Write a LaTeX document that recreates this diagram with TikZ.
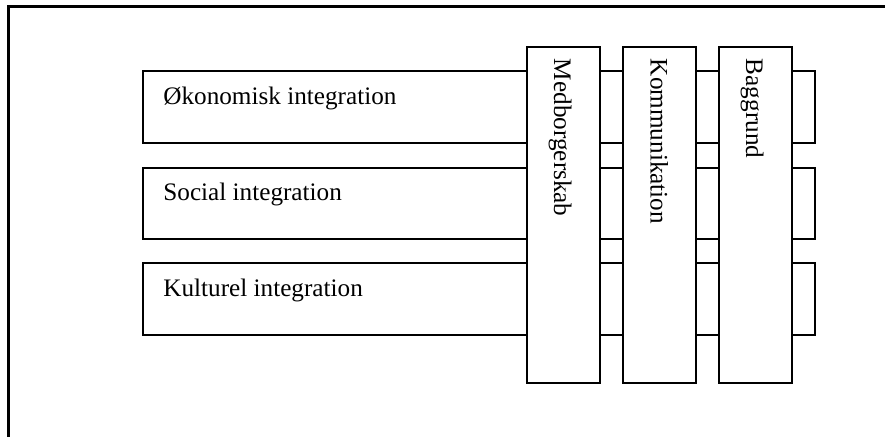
\documentclass[tikz,border=0pt]{standalone}
\usepackage{fontspec}
\setmainfont{Liberation Serif}
\usetikzlibrary{positioning}
\tikzset{frame/.style={line width=1.3pt},
  rowbox/.style={draw, line width=1pt},
  colbox/.style={draw, fill=white, line width=1pt},
  rowtext/.style={anchor=base west, inner sep=0pt, font=\fontsize{12.6}{15}\selectfont},
  coltext/.style={rotate=-90, anchor=base west, inner sep=0pt, font=\fontsize{12.6}{15}\selectfont}}

\begin{document}
\begin{tikzpicture}[x=0.5pt,y=-0.5pt]
      \def\hl{143}    % left end of the rows
      \def\hr{815}    % right end of the rows
      \def\vt{46.7}   % top of the columns
      \def\vb{383.3}  % bottom of the columns
      \useasboundingbox (0,0) rectangle (885,437);
      \draw[frame] (8.3,437) -- (8.3,6.7) -- (885,6.7);
      %
      \foreach \T/\B/\N/\L in {71.5/143.3/oko/{Økonomisk integration},167.7/239.3/soc/{Social integration},263.3/335.3/kul/{Kulturel integration}} {%
        \draw[rowbox] (\hl,\T) rectangle (\hr,\B);
        \node[rowtext] (\N) at (\hl+20,\T+33.3) {\L};
      }
      \foreach \X/\N/\L in {527/med/Medborgerskab,623.3/kom/Kommunikation,719/bag/Baggrund} {%
        \draw[colbox] (\X,\vt) rectangle ++(72.5,\vb-\vt);
        \node[coltext] (\N) at (\X+36.2-9,58.5) {\L};
      }
    \end{tikzpicture}
\end{document}
